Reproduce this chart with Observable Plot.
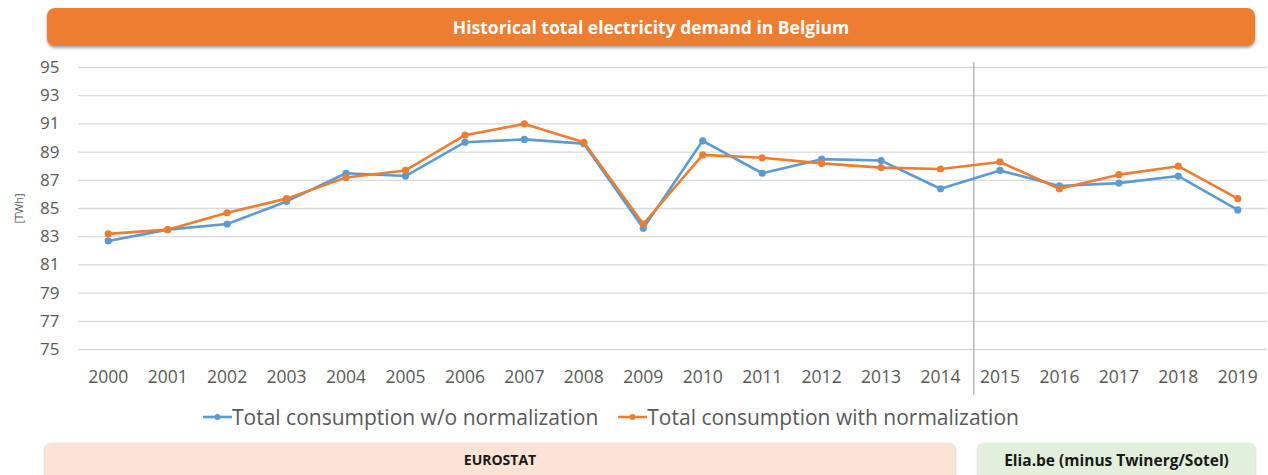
<!DOCTYPE html>
<html>
<head>
<meta charset="utf-8">
<script src="https://cdn.jsdelivr.net/npm/d3@7"></script>
<script src="https://cdn.jsdelivr.net/npm/@observablehq/plot@0.6"></script>
<style>
  html, body { margin: 0; padding: 0; background: #fff; width: 1268px; height: 475px; overflow: hidden; position: relative; font-family: "Open Sans", sans-serif; }
  #title { position: absolute; left: 47px; top: 8px; width: 1208px; height: 38px; background: #ED7D31; border-radius: 8px; box-shadow: 0 2px 3px rgba(0,0,0,0.35); color: #fff; font-weight: bold; font-size: 17.5px; display: flex; align-items: center; justify-content: center; }
  #chart { position: absolute; left: 0; top: 50px; }
  #legend { position: absolute; left: 203px; top: 403px; display: flex; align-items: center; font-size: 21px; color: #595959; white-space: nowrap; }
  #legend .item { display: flex; align-items: center; margin-right: 20px; }
  .box { position: absolute; top: 443px; height: 40px; border-radius: 6px; box-shadow: 0 1px 3px rgba(0,0,0,0.3); display: flex; justify-content: center; padding-top: 7px; box-sizing: border-box; font-weight: bold; color: #1a1a1a; }
  #eurostat { left: 45px; width: 910px; background: #FBE3D5; font-size: 14px; }
  #elia { left: 978px; width: 277px; background: #E2EFDA; font-size: 15.5px; padding-top: 6px; }
</style>
</head>
<body>
<div id="title">Historical total electricity demand in Belgium</div>
<div id="chart"></div>
<div id="legend"></div>
<div class="box" id="eurostat">EUROSTAT</div>
<div class="box" id="elia">Elia.be (minus Twinerg/Sotel)</div>
<script>
const years = [2000, 2001, 2002, 2003, 2004, 2005, 2006, 2007, 2008, 2009, 2010, 2011, 2012, 2013, 2014, 2015, 2016, 2017, 2018, 2019];
const withoutNormalization = [82.7, 83.5, 83.9, 85.5, 87.5, 87.3, 89.7, 89.9, 89.6, 83.6, 89.8, 87.5, 88.5, 88.4, 86.4, 87.7, 86.6, 86.8, 87.3, 84.9];
const withNormalization = [83.2, 83.5, 84.7, 85.7, 87.2, 87.7, 90.2, 91.0, 89.7, 83.9, 88.8, 88.6, 88.2, 87.9, 87.8, 88.3, 86.4, 87.4, 88.0, 85.7];
const yTicks = [75, 77, 79, 81, 83, 85, 87, 89, 91, 93, 95];
const seriesNames = ["Total consumption w/o normalization", "Total consumption with normalization"];
const seriesColors = ["#5B9BD5", "#ED7D31"];
const sourceSplit = 2014.56;

const blue = years.map((y, i) => ({year: y, value: withoutNormalization[i]}));
const orange = years.map((y, i) => ({year: y, value: withNormalization[i]}));

const chart = Plot.plot({
  width: 1268,
  height: 350,
  marginLeft: 78,
  marginRight: 1,
  marginTop: 17,
  marginBottom: 51,
  style: {fontFamily: "'Open Sans', sans-serif", fontSize: "17px", color: "#595959", background: "transparent"},
  x: {domain: [1999.5, 2019.5]},
  y: {domain: [75, 95]},
  marks: [
    Plot.ruleY(yTicks, {stroke: "#d9d9d9", strokeWidth: 1.3}),
    Plot.ruleX([sourceSplit], {y1: 95.33, y2: 71.75, stroke: "#a6a6a6", strokeWidth: 1.2, clip: false}),
    Plot.axisY({ticks: yTicks, tickSize: 0, tickPadding: 19, label: "[TWh]", labelAnchor: "center", labelArrow: "none", labelOffset: 63, fontSize: 17}),
    Plot.axisX({ticks: years, tickFormat: "d", tickSize: 0, tickPadding: 21, label: null, fontSize: 17.5}),
    Plot.line(blue, {x: "year", y: "value", stroke: seriesColors[0], strokeWidth: 2.6}),
    Plot.dot(blue, {x: "year", y: "value", fill: seriesColors[0], r: 3.6}),
    Plot.line(orange, {x: "year", y: "value", stroke: seriesColors[1], strokeWidth: 2.6}),
    Plot.dot(orange, {x: "year", y: "value", fill: seriesColors[1], r: 3.6})
  ]
});
document.getElementById("chart").appendChild(chart);
d3.select(chart).selectAll("[aria-label='y-axis label'] text").style("font-size", "11px");

const legend = document.getElementById("legend");
seriesNames.forEach((name, i) => {
  const item = document.createElement("div");
  item.className = "item";
  item.innerHTML = `<svg width="29" height="10"><line x1="0" y1="5" x2="29" y2="5" stroke="${seriesColors[i]}" stroke-width="2.6"/><circle cx="14.5" cy="5" r="3" fill="${seriesColors[i]}"/></svg><span>${name}</span>`;
  legend.appendChild(item);
});
</script>
</body>
</html>
